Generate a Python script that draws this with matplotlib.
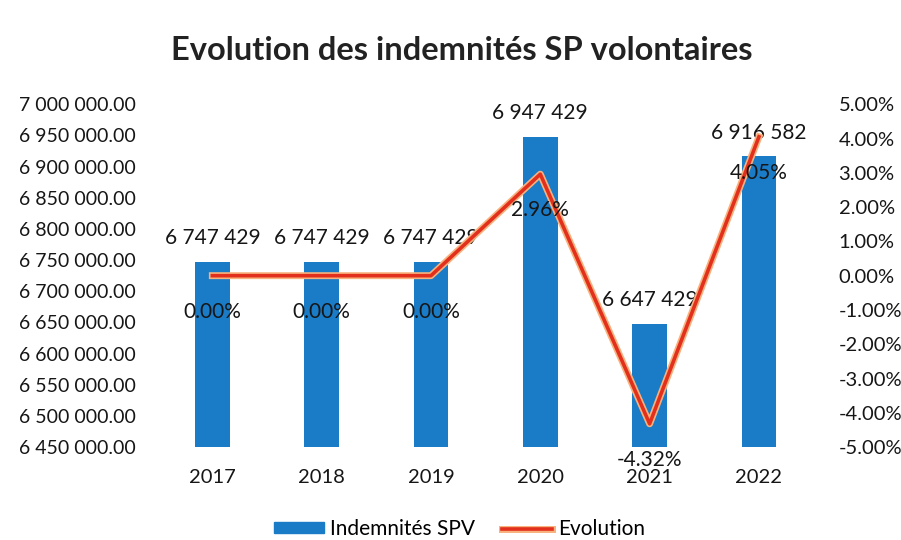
import matplotlib
matplotlib.use("Agg")
import matplotlib.pyplot as plt
import matplotlib.patheffects as pe
from matplotlib.ticker import FuncFormatter
from matplotlib.patches import Patch
from matplotlib.lines import Line2D

plt.rcParams['font.family'] = ['Lato', 'DejaVu Sans']

years = ['2017', '2018', '2019', '2020', '2021', '2022']
indemnites = [6747429, 6747429, 6747429, 6947429, 6647429, 6916582]
evolution = [0.00, 0.00, 0.00, 2.96, -4.32, 4.05]

bar_color = '#1a7bc6'
line_color = '#e3301c'
glow = '#f7b27e'
txt = '#161616'


def fmt_amount(v, pos=None):
    return '{:,.2f}'.format(v).replace(',', ' ')


def fmt_int(v):
    return '{:,}'.format(int(v)).replace(',', ' ')


def fmt_pct(v, pos=None):
    return '{:.2f}%'.format(v)


fig = plt.figure(figsize=(9.01, 5.4), dpi=100)
ax = fig.add_axes([0.175, 0.172, 0.728, 0.635])
ax2 = ax.twinx()

x = list(range(len(years)))
ax.bar(x, indemnites, width=0.315, color=bar_color, zorder=2)
ax.set_ylim(6450000, 7000000)
ax.set_yticks([6450000 + 50000 * i for i in range(12)])
ax.yaxis.set_major_formatter(FuncFormatter(fmt_amount))
ax.set_xlim(-0.5, len(years) - 0.5)
ax.set_xticks(x)
ax.set_xticklabels(years)

for xi, v in zip(x, indemnites):
    ax.annotate(fmt_int(v), (xi, v), xytext=(0, 17), textcoords='offset points',
                ha='center', va='center', fontsize=15, color=txt, zorder=5)

ax2.plot(x, evolution, color=line_color, lw=2.6, zorder=3,
         path_effects=[pe.Stroke(linewidth=5, foreground=glow), pe.Normal()])
ax2.set_ylim(-5, 5)
ax2.set_yticks([-5 + i for i in range(11)])
ax2.yaxis.set_major_formatter(FuncFormatter(fmt_pct))

for xi, v in zip(x, evolution):
    ax2.annotate(fmt_pct(v), (xi, v), xytext=(0, -26), textcoords='offset points',
                 ha='center', va='center', fontsize=15, color=txt, zorder=5)

for a in (ax, ax2):
    for s in a.spines.values():
        s.set_visible(False)
    a.tick_params(length=0, labelsize=14.5, colors=txt)
ax.tick_params(axis='y', labelsize=14, pad=16)
ax.tick_params(axis='x', pad=16)
ax2.tick_params(axis='y', pad=18)

fig.text(0.512, 0.907, 'Evolution des indemnités SP volontaires', ha='center', va='center',
         fontsize=23.5, fontweight='bold', color='#222222')

handles = [Patch(color=bar_color, label='Indemnités SPV'),
           Line2D([0], [0], color=line_color, lw=2.6, label='Evolution',
                  path_effects=[pe.Stroke(linewidth=5, foreground=glow), pe.Normal()])]
fig.legend(handles=handles, loc='center', bbox_to_anchor=(0.51, 0.02), ncol=2, frameon=False,
           fontsize=15, handlelength=2.4, handleheight=0.45, columnspacing=1.3, handletextpad=0.3)

fig.savefig('out.png', dpi=100)
